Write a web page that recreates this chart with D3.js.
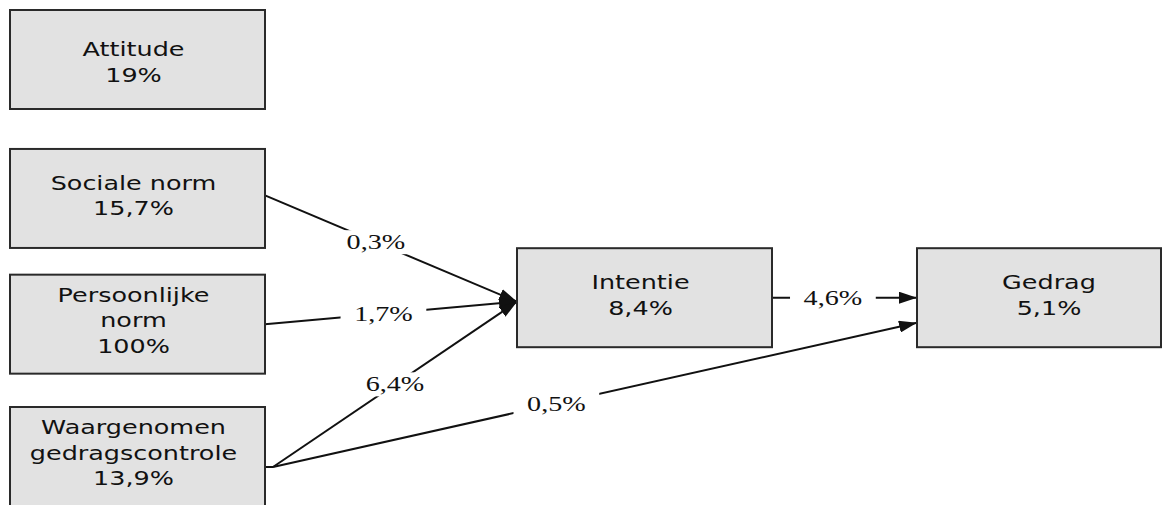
<!DOCTYPE html>
<html>
<head>
<meta charset="utf-8">
<script src="https://cdn.jsdelivr.net/npm/d3@7"></script>
<style>
  html, body { margin: 0; padding: 0; background: #fff; }
  svg { display: block; }
</style>
</head>
<body>
<svg width="1162" height="505"></svg>
<script>
// model nodes: text lines and explained variance
const nodeLines = [
  ["Attitude"],
  ["Sociale norm"],
  ["Persoonlijke", "norm"],
  ["Waargenomen", "gedragscontrole"],
  ["Intentie"],
  ["Gedrag"]
];
const nodeValues = ["19%", "15,7%", "100%", "13,9%", "8,4%", "5,1%"];

// paths between nodes (index into nodeLines)
const edgeSources = [1, 2, 3, 4, 3];
const edgeTargets = [4, 4, 4, 5, 5];
const edgeLabels = ["0,3%", "1,7%", "6,4%", "4,6%", "0,5%"];

const svg = d3.select("svg");
const width = +svg.attr("width");
const height = +svg.attr("height");

// layout: column / row of each box
const nodeCol = [0, 0, 0, 0, 1, 2];
const nodeRow = [0, 1.05, 2, 3, 1.8, 1.8];

const xScale = d3.scaleOrdinal().domain([0, 1, 2]).range([10, 517, 917]);
const yScale = d3.scaleLinear().domain([0, 3]).range([10, 407]);

const boxW = 255, boxH = 99;
const sx = 1.34; // the original picture is stretched horizontally

const nodes = nodeLines.map((lines, i) => {
  const x = xScale(nodeCol[i]);
  const y = yScale(nodeRow[i]);
  const w = Math.min(boxW, width - 1 - x);
  const h = i === 3 ? 120 : boxH;
  return { lines: lines.concat([nodeValues[i]]), x, y, w, h, cx: x + w / 2, cy: y + h / 2 };
});

const edges = edgeSources.map((s, i) => {
  const a = nodes[s], b = nodes[edgeTargets[i]];
  const x1 = a.x + a.w + (s === 3 ? 8 : 0);
  const y1 = a.cy + (s === 1 ? -3 : 0);
  // second incoming port on Gedrag for the direct path
  const y2 = b.cy + (s === 3 && edgeTargets[i] === 5 ? 25 : 0) + (edgeTargets[i] === 4 ? 4 : 0);
  return { x1, y1, x2: b.x, y2, label: edgeLabels[i], t: [0.44, 0.47, 0.5, 0.42, 0.44][i] };
});

svg.append("defs").append("marker")
  .attr("id", "arrow")
  .attr("viewBox", "0 -6 18 12")
  .attr("refX", 18)
  .attr("refY", 0)
  .attr("markerUnits", "userSpaceOnUse")
  .attr("markerWidth", 18)
  .attr("markerHeight", 12)
  .attr("orient", "auto")
  .append("path")
  .attr("d", "M0,-6L18,0L0,6Z")
  .attr("fill", "#111");

// stub from Waargenomen box to the branching point
svg.append("line")
  .attr("x1", nodes[3].x + nodes[3].w).attr("y1", nodes[3].cy)
  .attr("x2", nodes[3].x + nodes[3].w + 8).attr("y2", nodes[3].cy)
  .attr("stroke", "#111").attr("stroke-width", 2);

svg.selectAll("line.edge").data(edges)
  .enter().append("line")
  .attr("class", "edge")
  .attr("x1", d => d.x1).attr("y1", d => d.y1)
  .attr("x2", d => d.x2).attr("y2", d => d.y2)
  .attr("stroke", "#111")
  .attr("stroke-width", 2)
  .attr("marker-end", "url(#arrow)");

const lab = svg.selectAll("g.lab").data(edges)
  .enter().append("g")
  .attr("class", "lab")
  .attr("transform", d => `translate(${d.x1 + (d.x2 - d.x1) * d.t}, ${d.y1 + (d.y2 - d.y1) * d.t}) scale(${sx},1)`);

lab.append("rect")
  .attr("x", -32).attr("y", -12)
  .attr("width", 64).attr("height", 24)
  .attr("fill", "#fff");

lab.append("text")
  .attr("text-anchor", "middle")
  .attr("y", 7)
  .attr("font-family", "'Liberation Serif', 'Times New Roman', serif")
  .attr("font-size", 21)
  .attr("fill", "#111")
  .text(d => d.label);

const box = svg.selectAll("g.node").data(nodes)
  .enter().append("g")
  .attr("class", "node");

box.append("rect")
  .attr("x", d => d.x).attr("y", d => d.y)
  .attr("width", d => d.w).attr("height", d => d.h)
  .attr("fill", "#e2e2e2")
  .attr("stroke", "#2a2a2a")
  .attr("stroke-width", 2);

box.each(function (d, i) {
  const g = d3.select(this);
  const first = d.y + (d.lines.length === 3 ? 27 : (i === 0 ? 46 : 41));
  const cx = i === 5 ? d.cx + 10 : d.cx - 4;
  d.lines.forEach((t, j) => {
    g.append("text")
      .attr("transform", `translate(${cx}, ${first + j * 25.5}) scale(${sx},1)`)
      .attr("text-anchor", "middle")
      .attr("font-family", "'DejaVu Sans', Verdana, sans-serif")
      .attr("font-size", 19)
      .attr("fill", "#111")
      .text(t);
  });
});
</script>
</body>
</html>
